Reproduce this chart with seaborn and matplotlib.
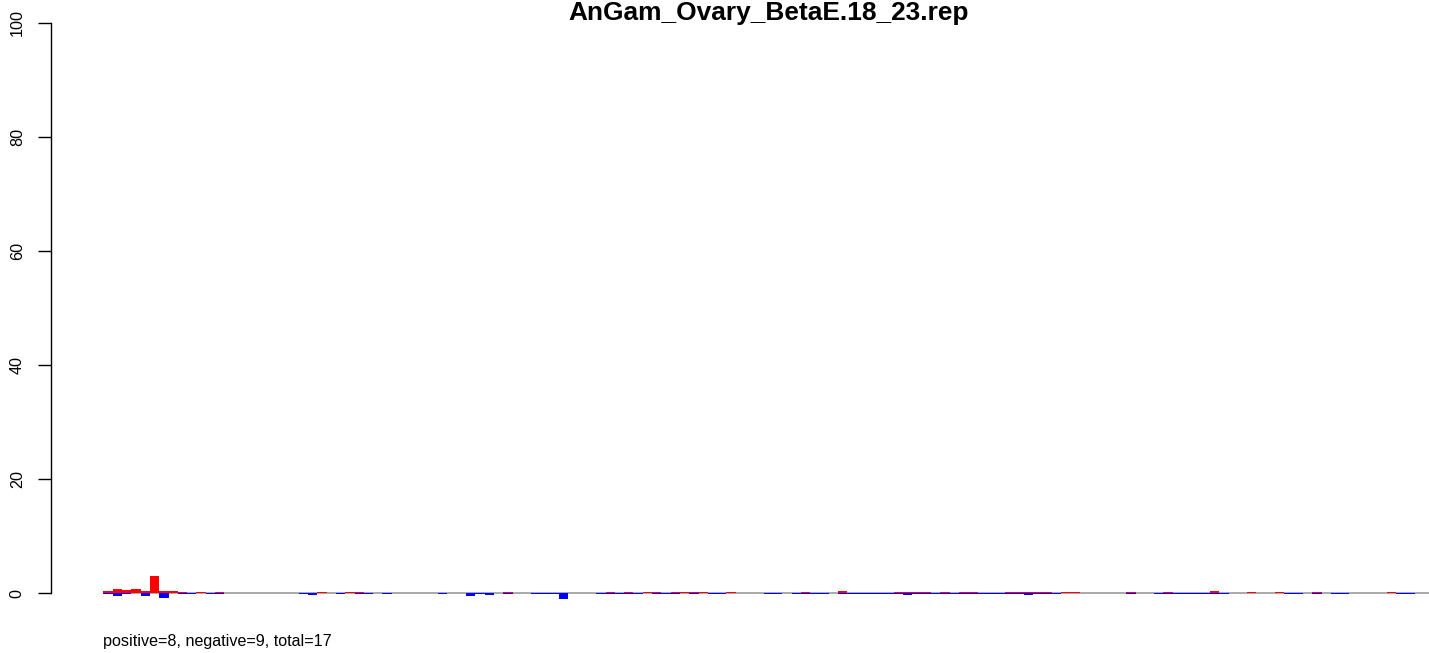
import numpy as np
import pandas as pd
import matplotlib
matplotlib.use("Agg")
import matplotlib.pyplot as plt
import seaborn as sns

# ---------------- data ----------------
title = "AnGam_Ovary_BetaE.18_23.rep"
summary = "positive=8, negative=9, total=17"
yticks = [0, 20, 40, 60, 80, 100]

positive = [
    0.35, 0.65, 0.5, 0.8, 0.35, 3.1, 0.35, 0.35, 0.15, 0,
    0.15, 0, 0.15, 0, 0, 0, 0, 0, 0, 0,
    0, 0, 0, 0.15, 0, 0, 0.15, 0.15, 0, 0,
    0, 0, 0, 0, 0, 0, 0, 0, 0, 0,
    0, 0, 0, 0.15, 0, 0, 0, 0, 0, 0,
    0, 0, 0, 0, 0.15, 0, 0.15, 0, 0.15, 0.15,
    0, 0.15, 0.15, 0.15, 0.15, 0, 0, 0.15, 0, 0,
    0, 0, 0, 0, 0, 0.15, 0, 0, 0, 0.45,
    0, 0, 0, 0, 0, 0.15, 0.15, 0.15, 0.15, 0,
    0.15, 0, 0.15, 0.15, 0.1, 0, 0, 0.15, 0.15, 0.15,
    0.15, 0.15, 0, 0.15, 0.15, 0, 0, 0, 0, 0,
    0.15, 0, 0, 0, 0.15, 0, 0, 0, 0, 0.35,
    0, 0, 0, 0.15, 0, 0, 0.15, 0, 0, 0,
    0.15, 0, 0, 0, 0, 0, 0, 0, 0.15, 0,
    0,
]

negative = [
    0.15, 0.5, 0.15, 0, 0.5, 0, 0.9, 0, 0.15, 0.15,
    0, 0.15, 0.15, 0, 0, 0, 0, 0, 0, 0,
    0, 0.15, 0.35, 0, 0, 0.15, 0, 0.15, 0.15, 0,
    0.15, 0, 0, 0, 0, 0, 0.15, 0, 0, 0.5,
    0.15, 0.35, 0, 0.15, 0, 0, 0.15, 0.15, 0.15, 1.05,
    0, 0, 0, 0.15, 0.15, 0.15, 0.15, 0.15, 0, 0.15,
    0.15, 0.15, 0, 0.15, 0, 0.15, 0.15, 0, 0, 0,
    0, 0.15, 0.15, 0, 0.15, 0.15, 0.15, 0.15, 0, 0.15,
    0.15, 0.15, 0.15, 0.15, 0.15, 0.15, 0.35, 0.15, 0.15, 0.15,
    0.15, 0.15, 0.15, 0.15, 0.15, 0.15, 0.15, 0.15, 0.15, 0.35,
    0.15, 0.15, 0.15, 0, 0, 0, 0, 0, 0, 0,
    0.15, 0, 0, 0.15, 0.15, 0.15, 0.15, 0.15, 0.15, 0.15,
    0.15, 0, 0, 0, 0, 0, 0, 0.15, 0.15, 0,
    0.15, 0, 0.15, 0.15, 0, 0, 0, 0, 0, 0.15,
    0.15,
]

positions = list(range(len(positive)))

df = pd.DataFrame({
    "pos": positions,
    "positive": positive,
    "negative": [-v for v in negative],
})

# ---------------- figure ----------------
sns.set_style("white")
plt.rcParams["font.family"] = ["Liberation Sans", "DejaVu Sans"]
plt.rcParams["text.color"] = "black"
plt.rcParams["ytick.color"] = "black"
plt.rcParams["axes.edgecolor"] = "black"

W, H = 1429, 653
fig = plt.figure(figsize=(W / 100, H / 100), dpi=100)
ax = fig.add_axes([51 / W, (H - 616) / H, 1416 / W, 616 / H])

ax.hlines(0, -0.5, 160, colors="#A9A9A9", lw=1.4, zorder=1)

sns.barplot(data=df, x="pos", y="positive", color="#FF0000", width=1.0,
            saturation=1, linewidth=0, ax=ax)
sns.barplot(data=df, x="pos", y="negative", color="#0000FF", width=1.0,
            saturation=1, linewidth=0, ax=ax)
for p in ax.patches:
    p.set_zorder(2)

n = len(positions)
ext = 0.04 * n
ax.set_xlim(-0.5 - ext, n - 0.5 + ext)
ax.set_ylim(-4, 104)

ax.set_xticks([])
ax.set_xlabel("")
ax.set_ylabel("")
ax.set_yticks(yticks)
ax.set_yticklabels([str(t) for t in yticks], rotation=90, va="center",
                   color="black")
ax.tick_params(axis="y", length=9.4, width=1.0, pad=9.5, labelsize=11.6,
               colors="black", left=True)

for s in ["top", "right", "bottom"]:
    ax.spines[s].set_visible(False)
ax.spines["left"].set_bounds(0, 100)
ax.spines["left"].set_linewidth(1.0)
ax.spines["left"].set_color("black")
ax.grid(False)

fig.text(768.5 / W, 1 - 20 / H, title, ha="center", va="baseline",
         fontsize=18.9, fontweight="bold", color="black")
fig.text(103 / W, 1 - 646 / H, summary, ha="left", va="baseline",
         fontsize=11.6, color="black")

fig.savefig("out.png", dpi=100)
